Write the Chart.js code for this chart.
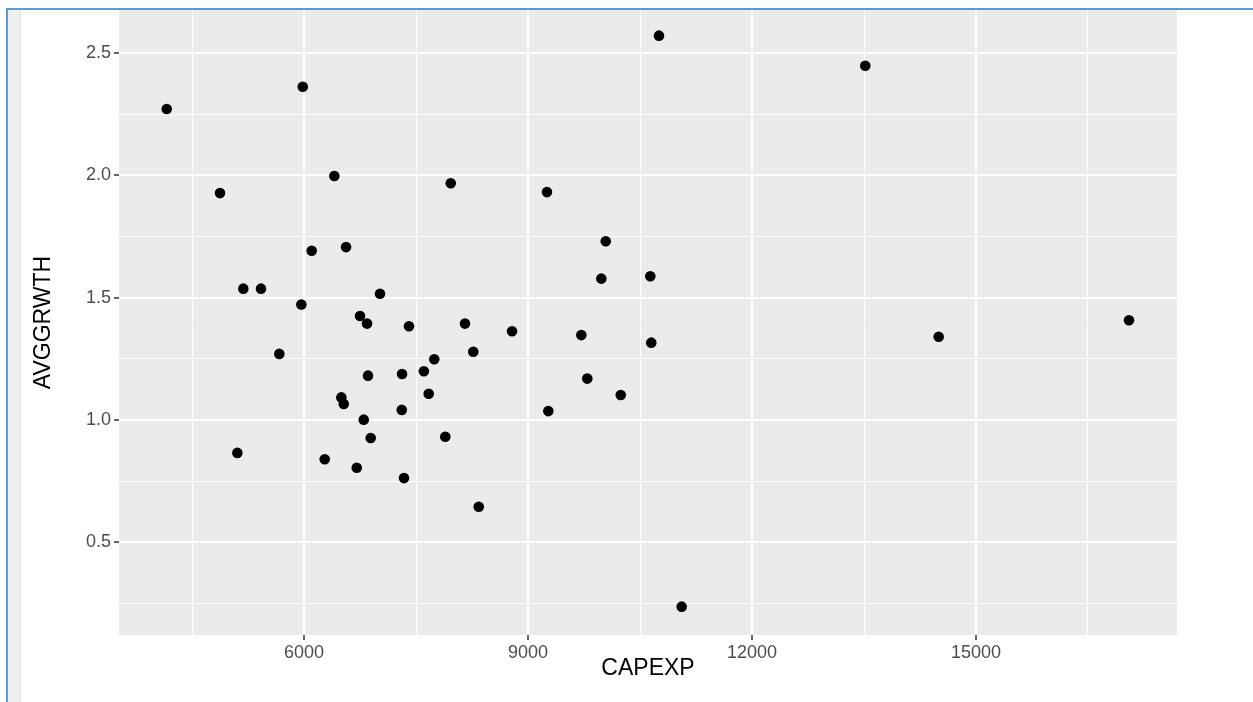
<!DOCTYPE html>
<html>
<head>
<meta charset="utf-8">
<script src="https://cdn.jsdelivr.net/npm/chart.js@4/dist/chart.umd.min.js"></script>
<style>
body { margin: 0; background: #fff; }
#frame { position: absolute; left: 6px; top: 8px; right: 0; bottom: 0; border-left: 2px solid #5b9bd5; border-top: 2px solid #5b9bd5; }
#strip { position: absolute; left: 8px; top: 10px; width: 12px; bottom: 0; background: #efefef; border-right: 1px solid #e2e2e2; }
#myChart { position: absolute; left: 0; top: 0; }
</style>
</head>
<body>
<div id="frame"></div>
<div id="strip"></div>
<canvas id="myChart" width="1253" height="702"></canvas>
<script>
const capexp = [4161, 5983, 4875, 6406, 7965, 9254, 10754, 13517, 10041, 6103,
    6563, 5187, 5424, 5964, 7018, 9982, 10638, 6750, 6844, 7406,
    8156, 8786, 9714, 10651, 14500, 17049, 5669, 8267, 7744, 7605,
    7313, 6857, 9794, 6500, 6532, 7670, 10242, 6800, 7309, 9272,
    6893, 7892, 5107, 6277, 6706, 7339, 8340, 11058];
const avggrwth = [2.272, 2.363, 1.928, 1.998, 1.968, 1.932, 2.572, 2.449, 1.731, 1.692,
    1.707, 1.537, 1.537, 1.472, 1.516, 1.578, 1.588, 1.425, 1.394, 1.383,
    1.394, 1.363, 1.347, 1.316, 1.340, 1.408, 1.270, 1.279, 1.248, 1.199,
    1.188, 1.181, 1.169, 1.092, 1.065, 1.107, 1.102, 1.001, 1.041, 1.036,
    0.926, 0.931, 0.865, 0.839, 0.804, 0.762, 0.645, 0.236];

const xGrid = [4500, 6000, 7500, 9000, 10500, 12000, 13500, 15000, 16500];
const xLabels = [6000, 9000, 12000, 15000];
const yGrid = [0.25, 0.5, 0.75, 1.0, 1.25, 1.5, 1.75, 2.0, 2.25, 2.5];
const yLabels = [0.5, 1.0, 1.5, 2.0, 2.5];

const points = capexp.map((v, i) => ({x: v, y: avggrwth[i]}));

// grey panel like ggplot
const panelBg = {
    id: 'panelBg',
    beforeDraw(chart) {
        const {ctx, chartArea: a} = chart;
        ctx.save();
        ctx.fillStyle = '#ebebeb';
        ctx.fillRect(a.left, a.top, a.right - a.left, a.bottom - a.top);
        ctx.restore();
    }
};

const tickFont = {family: 'Liberation Sans', size: 18};
const titleFont = {family: 'Liberation Sans', size: 23};

const ctx = document.getElementById('myChart').getContext('2d');
const myChart = new Chart(ctx, {
    type: 'scatter',
    data: {
        datasets: [{
            data: points,
            backgroundColor: '#000',
            borderColor: '#000',
            borderWidth: 0,
            pointRadius: 5.3
        }]
    },
    options: {
        responsive: false,
        animation: false,
        layout: {padding: {top: 10, right: 76, left: 0, bottom: 0}},
        plugins: {legend: {display: false}, tooltip: {enabled: false}},
        scales: {
            x: {
                type: 'linear',
                min: 3522,
                max: 17692,
                afterBuildTicks: s => { s.ticks = xGrid.map(v => ({value: v})); },
                afterFit: s => { s.height = 67; s.paddingLeft = 0; s.paddingRight = 0; },
                border: {display: false},
                grid: {
                    color: '#fff',
                    lineWidth: c => xLabels.includes(c.tick.value) ? 2 : 1,
                    tickLength: 5,
                    tickWidth: 1.5,
                    tickColor: c => xLabels.includes(c.tick.value) ? '#333' : 'rgba(0,0,0,0)'
                },
                ticks: {
                    autoSkip: false, maxRotation: 0, padding: 2,
                    color: '#4d4d4d', font: tickFont,
                    callback: v => xLabels.includes(v) ? String(v) : ''
                },
                title: {
                    display: true, text: 'CAPEXP', color: '#000', font: titleFont,
                    padding: {top: 0, bottom: 20}
                }
            },
            y: {
                type: 'linear',
                min: 0.12,
                max: 2.677,
                afterBuildTicks: s => { s.ticks = yGrid.map(v => ({value: v})); },
                afterFit: s => { s.width = 119; s.paddingTop = 0; s.paddingBottom = 0; },
                border: {display: false},
                grid: {
                    color: '#fff',
                    lineWidth: c => yLabels.includes(c.tick.value) ? 2 : 1,
                    tickLength: 5,
                    tickWidth: 1.5,
                    tickColor: c => yLabels.includes(c.tick.value) ? '#333' : 'rgba(0,0,0,0)'
                },
                ticks: {
                    autoSkip: false, padding: 3,
                    color: '#4d4d4d', font: tickFont,
                    callback: v => yLabels.includes(v) ? v.toFixed(1) : ''
                },
                title: {
                    display: true, text: 'AVGGRWTH', color: '#000', font: titleFont,
                    padding: {top: 30, bottom: 0}
                }
            }
        }
    },
    plugins: [panelBg]
});
</script>
</body>
</html>
